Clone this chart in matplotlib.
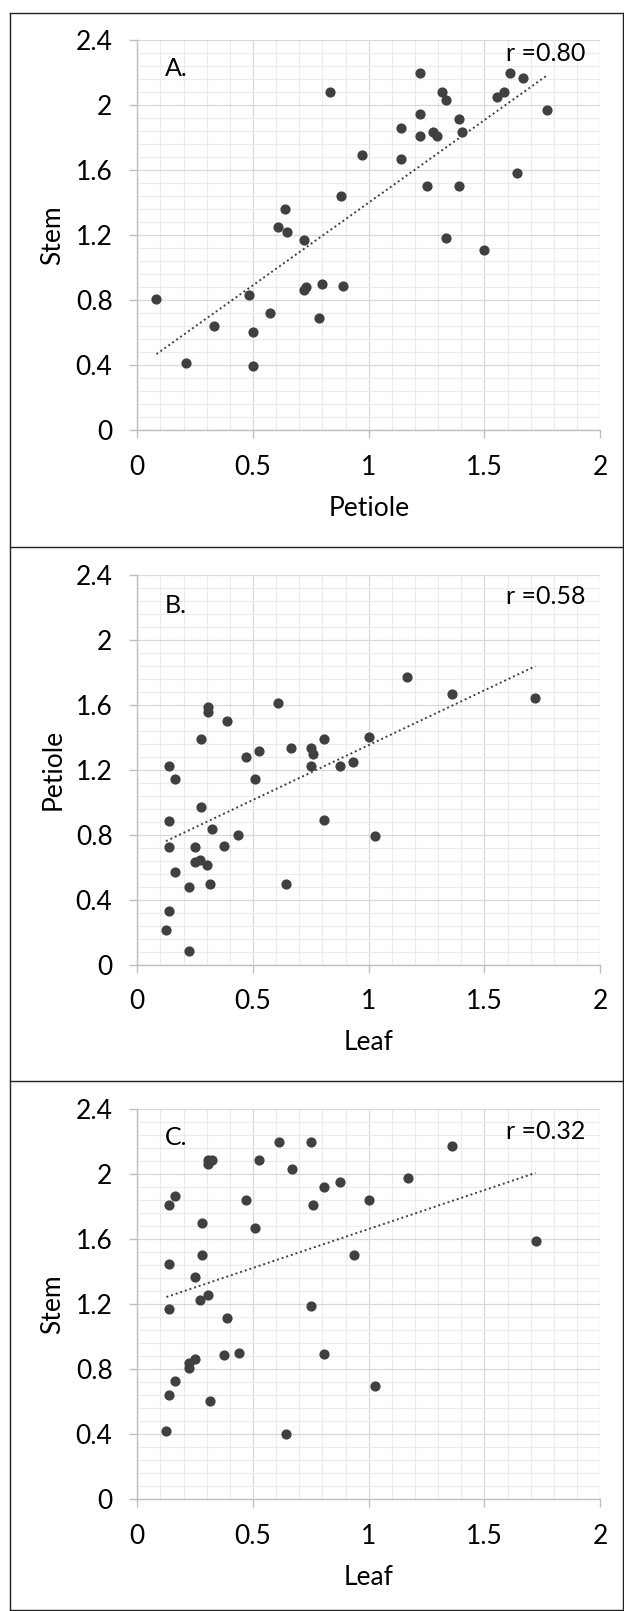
import numpy as np
import matplotlib
matplotlib.use('Agg')
import matplotlib.pyplot as plt
from matplotlib.lines import Line2D
from matplotlib.ticker import MultipleLocator

plt.rcParams['font.family'] = ['Lato', 'DejaVu Sans']

# panel A: petiole vs stem
petiole_a = [0.083, 0.211, 0.332, 0.481, 0.499, 0.499, 0.573, 0.610, 0.638, 0.648,
             0.722, 0.720, 0.731, 0.786, 0.798, 0.832, 0.879, 0.887, 0.972, 1.140,
             1.140, 1.221, 1.221, 1.223, 1.250, 1.276, 1.297, 1.316, 1.333, 1.333,
             1.391, 1.405, 1.390, 1.500, 1.555, 1.584, 1.611, 1.640, 1.668, 1.770]
stem_a = [0.807, 0.417, 0.640, 0.835, 0.604, 0.398, 0.724, 1.252, 1.362, 1.224,
          1.169, 0.862, 0.881, 0.695, 0.900, 2.084, 1.445, 0.890, 1.697, 1.862,
          1.669, 2.197, 1.945, 1.809, 1.502, 1.839, 1.809, 2.084, 2.031, 1.186,
          1.917, 1.836, 1.502, 1.112, 2.055, 2.084, 2.197, 1.587, 2.169, 1.974]

# panel B: leaf vs petiole
leaf_b = [0.124, 0.138, 0.138, 0.138, 0.138, 0.165, 0.165, 0.222, 0.222, 0.249,
          0.248, 0.272, 0.277, 0.277, 0.303, 0.304, 0.304, 0.313, 0.323, 0.373,
          0.387, 0.437, 0.471, 0.509, 0.528, 0.610, 0.641, 0.665, 0.750, 0.758,
          0.750, 0.805, 0.805, 0.875, 0.934, 1.001, 1.027, 1.166, 1.360, 1.720]
petiole_b = [0.211, 0.332, 1.220, 0.882, 0.721, 1.140, 0.573, 0.480, 0.082, 0.721,
             0.634, 0.645, 1.389, 0.973, 0.611, 1.586, 1.554, 0.499, 0.833, 0.730,
             1.499, 0.797, 1.279, 1.140, 1.315, 1.609, 0.499, 1.332, 1.334, 1.294,
             1.220, 1.391, 0.888, 1.220, 1.250, 1.404, 0.789, 1.768, 1.664, 1.639]

# panel C: leaf vs stem
leaf_c = [0.126, 0.138, 0.138, 0.138, 0.138, 0.165, 0.165, 0.222, 0.222, 0.249,
          0.249, 0.270, 0.279, 0.279, 0.304, 0.304, 0.304, 0.325, 0.313, 0.375,
          0.387, 0.439, 0.471, 0.509, 0.528, 0.612, 0.643, 0.667, 0.750, 0.758,
          0.750, 0.807, 0.807, 0.875, 0.935, 1.003, 1.028, 1.168, 1.362, 1.721]
stem_c = [0.418, 0.641, 1.170, 1.446, 1.810, 0.724, 1.865, 0.837, 0.809, 0.864,
          1.366, 1.226, 1.502, 1.699, 1.255, 2.088, 2.060, 2.088, 0.605, 0.884,
          1.115, 0.898, 1.839, 1.669, 2.088, 2.200, 0.399, 2.033, 2.200, 1.810,
          1.187, 1.920, 0.892, 1.950, 1.502, 1.839, 0.697, 1.975, 2.173, 1.587]

panels = [
    (petiole_a, stem_a, 'Petiole', 'Stem', 'A.', 'r =0.80', 0.7328),
    (leaf_b, petiole_b, 'Leaf', 'Petiole', 'B.', 'r =0.58', 0.4012),
    (leaf_c, stem_c, 'Leaf', 'Stem', 'C.', 'r =0.32', 0.0695),
]
r_y = [0.966, 0.944, 0.942]
tag_y = [0.927, 0.922, 0.926]

dot_color = '#404040'
grid_major = '#d9d9d9'
grid_minor = '#ebebeb'
axis_color = '#bfbfbf'

fig = plt.figure(figsize=(6.24, 16.11), dpi=100)

for i, (xs, ys, xlab, ylab, tag, rtxt, bottom) in enumerate(panels):
    ax = fig.add_axes([0.2200, bottom, 0.7417, 0.2421])
    ax.set_xlim(0, 2)
    ax.set_ylim(0, 2.4)
    ax.xaxis.set_major_locator(MultipleLocator(0.5))
    ax.xaxis.set_minor_locator(MultipleLocator(0.1))
    ax.yaxis.set_major_locator(MultipleLocator(0.4))
    ax.yaxis.set_minor_locator(MultipleLocator(0.08))
    ax.grid(True, which='minor', color=grid_minor, lw=0.8)
    ax.grid(True, which='major', color=grid_major, lw=0.9)
    ax.set_axisbelow(True)
    for side in ['top', 'right']:
        ax.spines[side].set_visible(False)
    for side in ['left', 'bottom']:
        ax.spines[side].set_color(axis_color)
        ax.spines[side].set_linewidth(1.0)
    ax.tick_params(which='major', length=5.8, width=1.0, color=axis_color,
                   labelsize=19, pad=12, labelcolor='black')
    ax.tick_params(which='minor', length=0)
    ax.set_xticks([0, 0.5, 1, 1.5, 2])
    ax.set_xticklabels(['0', '0.5', '1', '1.5', '2'])
    ax.set_yticks([0, 0.4, 0.8, 1.2, 1.6, 2.0, 2.4])
    ax.set_yticklabels(['0', '0.4', '0.8', '1.2', '1.6', '2', '2.4'])

    ax.scatter(xs, ys, s=54, color=dot_color, zorder=3, linewidths=0)

    # linear trendline
    coeffs = np.polyfit(xs, ys, 1)
    x_fit = np.array([min(xs), max(xs)])
    ax.plot(x_fit, np.polyval(coeffs, x_fit), color=dot_color, lw=1.4,
            linestyle=(0, (1, 1.5)), zorder=2)

    ax.set_xlabel(xlab, fontsize=19)
    ax.set_ylabel(ylab, fontsize=19)
    ax.xaxis.set_label_coords(0.5, -0.168)
    ax.yaxis.set_label_coords(-0.155, 0.5)

    ax.text(0.06, tag_y[i], tag, transform=ax.transAxes, fontsize=18,
            ha='left', va='center')
    ax.text(0.969, r_y[i], rtxt, transform=ax.transAxes, fontsize=18,
            ha='right', va='center')

# panel borders
border = dict(color='#222222', lw=1.0, transform=fig.transFigure)
left, right, top, bot = 0.016, 0.9976, 0.99174, 0.0009
for y in [top, 0.6603, 0.3290, bot]:
    fig.add_artist(Line2D([left, right], [y, y], **border))
for x in [left, right]:
    fig.add_artist(Line2D([x, x], [bot, top], **border))

fig.savefig('out.png', dpi=100)
